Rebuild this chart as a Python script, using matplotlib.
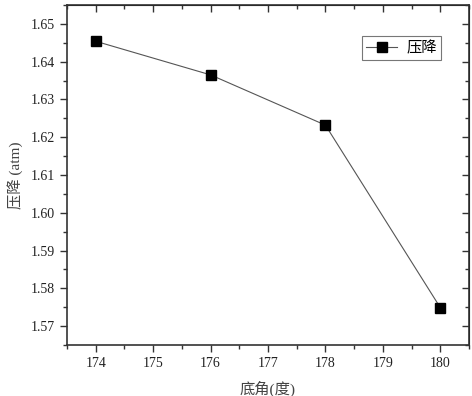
import matplotlib.pyplot as plt
from matplotlib.ticker import MultipleLocator

angles = [174, 176, 178, 180]
pressure_drop = [1.6454, 1.6365, 1.6232, 1.5749]

plt.rcParams['font.family'] = ['Liberation Serif', 'Noto Sans CJK SC']
plt.rcParams['font.size'] = 10

fig = plt.figure(figsize=(4.72, 3.96), dpi=100)
ax = fig.add_axes([67 / 472, 1 - 345 / 396, 402 / 472, 340 / 396])

ax.plot(angles, pressure_drop, color='#555555', lw=0.8, marker='s',
        markersize=6.5, markerfacecolor='black', markeredgecolor='black',
        label='压降')

ax.set_xlim(173.5, 180.5)
ax.set_ylim(1.565, 1.655)
ax.xaxis.set_major_locator(MultipleLocator(1))
ax.xaxis.set_minor_locator(MultipleLocator(0.5))
ax.yaxis.set_major_locator(MultipleLocator(0.01))
ax.yaxis.set_minor_locator(MultipleLocator(0.005))
ax.yaxis.set_major_formatter(plt.FormatStrFormatter('%.2f'))

for s in ax.spines.values():
    s.set_linewidth(1.2)
    s.set_color('#333333')

ax.tick_params(which='both', direction='out', top=False, right=False, colors='#333333',
               labelcolor='#222222', width=1.0)
ax.tick_params(which='major', length=5)
ax.tick_params(which='minor', length=3)
# mirrored ticks pointing inward on top/right
sec_x = ax.secondary_xaxis('top')
sec_x.xaxis.set_major_locator(MultipleLocator(1))
sec_x.xaxis.set_minor_locator(MultipleLocator(0.5))
sec_x.tick_params(which='both', direction='in', labeltop=False, width=1.0, colors='#333333')
sec_x.tick_params(which='major', length=5)
sec_x.tick_params(which='minor', length=3)
sec_y = ax.secondary_yaxis('right')
sec_y.yaxis.set_major_locator(MultipleLocator(0.01))
sec_y.yaxis.set_minor_locator(MultipleLocator(0.005))
sec_y.tick_params(which='both', direction='in', labelright=False, width=1.0, colors='#333333')
sec_y.tick_params(which='major', length=5)
sec_y.tick_params(which='minor', length=3)

ax.set_xlabel('底角(度)', color='#444444', fontsize=11, labelpad=8)
ax.set_ylabel('压降 (atm)', color='#444444', fontsize=11, labelpad=6)

leg = ax.legend(loc='upper right', bbox_to_anchor=(0.95, 0.93), frameon=True,
                fancybox=False, edgecolor='#555555', fontsize=11,
                handlelength=2.0, handletextpad=0.6, borderpad=0.3)
leg.get_frame().set_linewidth(0.8)

fig.savefig('out.png', dpi=100)
